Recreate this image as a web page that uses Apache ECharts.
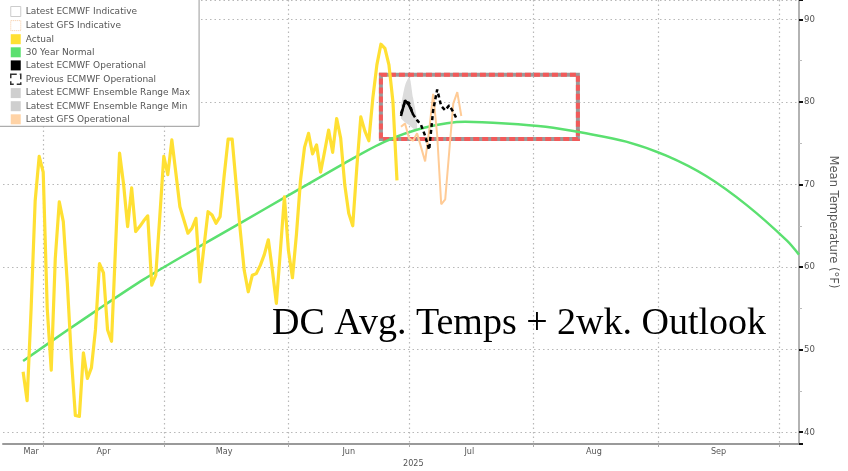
<!DOCTYPE html>
<html>
<head>
<meta charset="utf-8">
<script src="https://cdn.jsdelivr.net/npm/echarts@6.0.0/dist/echarts.min.js"></script>
<style>
html,body{margin:0;padding:0;background:#fff;}
#chart{width:848px;height:471px;}
</style>
</head>
<body>
<div id="chart"></div>
<script>
// ---- axis span (daily categories) ----
const axisStart = '2025-03-22';
const axisDays = 199;
const monthNames = ['Jan','Feb','Mar','Apr','May','Jun','Jul','Aug','Sep','Oct','Nov','Dec'];
const yearLabel = '2025';
const yTickLabels = [40, 50, 60, 70, 80, 90];

// ---- Actual (daily, from actualStart) ----
const actualStart = '2025-03-27';
const actual = [
  47.3, 43.8, 55, 68, 73.4, 71.5, 55, 47.5, 61, 67.9,
  65.5, 58, 49, 42, 41.9, 49.6, 46.5, 47.8, 52.4, 60.4,
  59.3, 52.4, 51, 62.5, 73.8, 70, 64.9, 69.6, 64.3, 64.9,
  65.6, 66.2, 57.8, 59.0, 66.1, 73.4, 71.2, 75.4, 71.4, 67.3,
  65.7, 64.1, 64.7, 65.9, 58.2, 62.5, 66.7, 66.3, 65.3, 66.1,
  71, 75.5, 75.5, 70, 64.5, 59.6, 57.0, 59.0, 59.2, 60.2,
  61.5, 63.3, 59.6, 55.6, 62, 68.5, 62, 58.7, 64, 70.5,
  74.5, 76.2, 73.7, 74.8, 71.5, 74, 76.6, 73.9, 78.0, 75.6,
  70, 66.5, 65.0, 72, 78.2, 76.5, 75.3, 80.5, 84.5, 87.0,
  86.5, 84.5, 80, 70.5
];

// ---- 30 Year Normal (read every 10 days) ----
const normalDates = ['2025-03-27','2025-04-06','2025-04-16','2025-04-26','2025-05-06','2025-05-16','2025-05-26',
  '2025-06-05','2025-06-15','2025-06-25','2025-07-05','2025-07-15','2025-07-25','2025-08-04','2025-08-14',
  '2025-08-24','2025-09-03','2025-09-13','2025-09-23','2025-10-03','2025-10-06'];
const normalValues = [48.6, 52.0, 55.3, 58.5, 61.4, 64.2, 67.0,
  69.8, 72.6, 75.2, 76.9, 77.6, 77.4, 77.0, 76.2,
  75.2, 73.5, 71.0, 67.5, 63.2, 61.5];

// ---- Forecasts ----
const ecmwfLatestStart = '2025-06-29';
const ecmwfLatest = [78.3, 80.2, 79.6, 78.5];
const ecmwfPrevStart = '2025-06-29';
const ecmwfPrev = [78.6, 80.0, 79.9, 78.5, 77.8, 77.2, 75.9, 74.2, 79.0, 81.5, 79.5, 79.0, 79.6, 78.8, 77.8];
const gfsStart = '2025-06-29';
const gfsOper = [77.0, 77.4, 75.6, 75.3, 76.2, 74.5, 72.8, 76.5, 81.0, 76.0, 67.6, 68.2, 74.0, 79.8, 81.2, 78.3];
const ensStart = '2025-06-29';
const ensMax = [79.5, 82.0, 83.0, 80.5, 78.0];
const ensMin = [78.0, 77.5, 77.2, 76.8, 76.5];

// ---- highlight box (date range, temperature range) ----
const boxDates = ['2025-06-24', '2025-08-12'];
const boxTemps = [83.3, 75.5];

const titleText = 'DC Avg. Temps + 2wk. Outlook';

// ---------- build ----------
function fmt(d){ return d.toISOString().slice(0,10); }
const [sy, sm, sd] = axisStart.split('-').map(Number);
const categories = [];
for (let k = 0; k < axisDays; k++) categories.push(fmt(new Date(Date.UTC(sy, sm-1, sd+k))));
const idx = d => categories.indexOf(d);
function full(start, vals){
  const arr = new Array(categories.length).fill(null);
  const s = idx(start);
  vals.forEach((v,k)=>{ arr[s+k] = v; });
  return arr;
}
const actualFull = full(actualStart, actual);
const normalFull = new Array(categories.length).fill(null);
normalDates.forEach((d,k)=>{ normalFull[idx(d)] = normalValues[k]; });
const ecmwfLatestFull = full(ecmwfLatestStart, ecmwfLatest);
const ecmwfPrevFull = full(ecmwfPrevStart, ecmwfPrev);
const gfsFull = full(gfsStart, gfsOper);
const ensMinFull = full(ensStart, ensMin);
const ensDiffFull = full(ensStart, ensMax.map((v,k)=> +(v - ensMin[k]).toFixed(2)));
const emptyFull = new Array(categories.length).fill(null);

const isMonthStart = (i) => categories[i].slice(8) === '01';
const isLabelDay = (i) => categories[i].slice(8) === '16' || (i === idx('2025-03-29'));

const chart = echarts.init(document.getElementById('chart'), null, {renderer:'canvas'});
const axisFont = "'DejaVu Sans Condensed','Liberation Sans Narrow','Liberation Sans',sans-serif";

chart.setOption({
  animation: false,
  backgroundColor: '#fff',
  grid: {left: 3, right: 49, top: 0, bottom: 27, containLabel: false},
  legend: {
    orient: 'vertical', left: -1, top: -1,
    itemWidth: 10, itemHeight: 10, itemGap: 3.1,
    padding: [7, 9, 2, 11],
    backgroundColor: '#fff', borderColor: '#999', borderWidth: 1,
    selectedMode: false,
    textStyle: {fontFamily: 'DejaVu Sans', fontSize: 9, color: '#555', lineHeight: 10},
    data: [
      {name: 'Latest ECMWF Indicative', icon: 'rect', itemStyle: {color: '#fff', borderColor: '#ccc', borderWidth: 1}},
      {name: 'Latest GFS Indicative', icon: 'rect', itemStyle: {color: '#fff', borderColor: '#f5c9a0', borderWidth: 1, borderType: 'dotted'}},
      {name: 'Actual', icon: 'rect', itemStyle: {color: '#FFE033'}},
      {name: '30 Year Normal', icon: 'rect', itemStyle: {color: '#5BE070'}},
      {name: 'Latest ECMWF Operational', icon: 'rect', itemStyle: {color: '#000'}},
      {name: 'Previous ECMWF Operational', icon: 'rect', itemStyle: {color: '#fff', borderColor: '#333', borderWidth: 1.5, borderType: 'dashed'}},
      {name: 'Latest ECMWF Ensemble Range Max', icon: 'rect', itemStyle: {color: '#cfcfcf'}},
      {name: 'Latest ECMWF Ensemble Range Min', icon: 'rect', itemStyle: {color: '#cfcfcf'}},
      {name: 'Latest GFS Operational', icon: 'rect', itemStyle: {color: '#FFD3A6'}}
    ]
  },
  xAxis: {
    type: 'category', data: categories, boundaryGap: false,
    axisLine: {show: true, lineStyle: {color: '#9a9a9a', width: 2}},
    axisTick: {show: true, interval: (i) => isMonthStart(i), length: 3, lineStyle: {color: '#aaa'}},
    axisLabel: {show: true, interval: (i) => isLabelDay(i), margin: 3,
      formatter: (v) => monthNames[Number(v.slice(5,7)) - 1],
      fontFamily: axisFont, fontSize: 9, color: '#555'},
    splitLine: {show: true, interval: (i) => isMonthStart(i), lineStyle: {color: '#b8b8b8', type: [1.5, 3], width: 1.2}}
  },
  yAxis: {
    type: 'value', position: 'right', min: 38.55, max: 92.36,
    name: 'Mean Temperature (°F)', nameLocation: 'middle', nameRotate: -90, nameGap: 28,
    nameTextStyle: {fontFamily: 'DejaVu Sans', fontSize: 11.5, color: '#555'},
    axisLine: {show: true, lineStyle: {color: '#9a9a9a', width: 1.5}},
    axisTick: {show: true, length: 4, lineStyle: {color: '#111', width: 2}},
    minorTick: {show: true, splitNumber: 2, length: 3, lineStyle: {color: '#bbb'}},
    axisLabel: {show: true, margin: 5, fontFamily: axisFont, fontSize: 9.5, color: '#555',
      showMinLabel: false, showMaxLabel: false,
      formatter: (v) => yTickLabels.indexOf(v) >= 0 ? String(v) : ''},
    splitLine: {show: true, lineStyle: {color: '#b8b8b8', type: [1.5, 3], width: 1.2}}
  },
  graphic: [
    {type: 'text', left: 272, top: 305, z: 100,
      style: {text: titleText, font: "38px 'Liberation Serif'", fill: '#000'}},
    {type: 'text', left: 403, top: 459, z: 100,
      style: {text: yearLabel, font: "9px 'DejaVu Sans Condensed','Liberation Sans Narrow','Liberation Sans'", fill: '#555'}}
  ],
  series: [
    {name: 'Latest ECMWF Indicative', type: 'line', data: emptyFull, symbol: 'none', silent: true,
      markArea: {silent: true, z: 1, itemStyle: {color: 'rgba(0,0,0,0)', borderColor: '#9a9a9a', borderWidth: 4},
        data: [[{coord: [boxDates[0], boxTemps[0]]}, {coord: [boxDates[1], boxTemps[1]]}]]}},
    {name: 'Latest GFS Indicative', type: 'line', data: emptyFull, symbol: 'none', silent: true},
    {name: '30 Year Normal', type: 'line', data: normalFull, connectNulls: true, smooth: 0.3, symbol: 'none',
      lineStyle: {color: '#5BE070', width: 2.5}, itemStyle: {color: '#5BE070'}, z: 3},
    {name: 'Actual', type: 'line', data: actualFull, symbol: 'none',
      lineStyle: {color: '#FFE033', width: 3.2, join: 'round'}, itemStyle: {color: '#FFE033'}, z: 4},
    {name: 'Latest ECMWF Ensemble Range Min', type: 'line', stack: 'ens', data: ensMinFull, symbol: 'none',
      lineStyle: {opacity: 0}, itemStyle: {color: '#cfcfcf'}, z: 2},
    {name: 'Latest ECMWF Ensemble Range Max', type: 'line', stack: 'ens', data: ensDiffFull, symbol: 'none',
      smooth: 0.3, lineStyle: {opacity: 0}, areaStyle: {color: '#dcdcdc', opacity: 1}, itemStyle: {color: '#cfcfcf'}, z: 2},
    {name: 'Latest GFS Operational', type: 'line', data: gfsFull, symbol: 'none',
      lineStyle: {color: '#FFCB96', width: 2}, itemStyle: {color: '#FFCB96'}, z: 5},
    {name: 'Previous ECMWF Operational', type: 'line', data: ecmwfPrevFull, symbol: 'none',
      lineStyle: {color: '#000', width: 2.5, type: [4, 3]}, itemStyle: {color: '#000'}, z: 6,
      markArea: {silent: true, itemStyle: {color: 'rgba(0,0,0,0)', borderColor: '#f25a5a', borderWidth: 4, borderType: [6, 3]},
        data: [[{coord: [boxDates[0], boxTemps[0]]}, {coord: [boxDates[1], boxTemps[1]]}]]}},
    {name: 'Latest ECMWF Operational', type: 'line', data: ecmwfLatestFull, symbol: 'none',
      lineStyle: {color: '#000', width: 2.5}, itemStyle: {color: '#000'}, z: 7}
  ]
});
</script>
</body>
</html>
